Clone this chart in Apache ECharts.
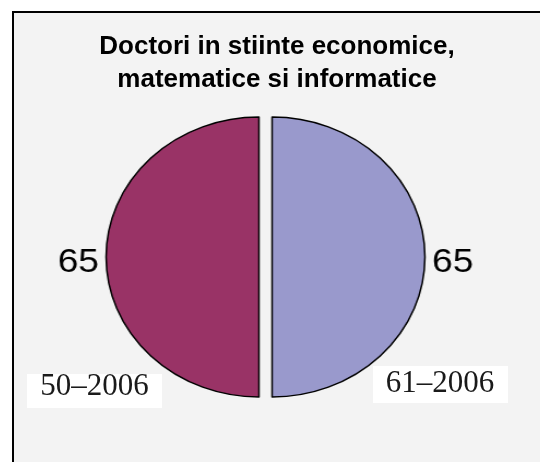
<!DOCTYPE html>
<html><head><meta charset="utf-8">
<script src="https://cdn.jsdelivr.net/npm/echarts@6/dist/echarts.min.js"></script>
<style>
html,body{margin:0;padding:0;background:#fff;overflow:hidden;}
#wrap{position:relative;width:540px;height:462px;overflow:hidden;}
#main{position:absolute;left:0;top:0;width:540px;height:462px;}
#pie{position:absolute;left:0;top:0;width:480px;height:462px;transform:scaleX(1.092);transform-origin:265.5px 0;}
</style></head><body>
<div id="wrap"><div id="main"></div><div id="pie"></div></div>
<script>
const titleLines = ['Doctori in stiinte economice,', 'matematice si informatice'];
const categories = ['61–2006', '50–2006'];
const values = [65, 65];
const colors = ['#9999CC', '#993366'];

const main = echarts.init(document.getElementById('main'));
main.setOption({
  animation: false,
  backgroundColor: '#ffffff',
  title: {
    text: titleLines.join('\n'),
    left: 277, top: 30, padding: 0, textAlign: 'center',
    textStyle: {fontFamily: '"Liberation Sans", Arial, sans-serif', fontWeight: 'bold', fontSize: 26, lineHeight: 33, color: '#000'}
  },
  graphic: [
    {type: 'rect', z: -10, shape: {x: 13, y: 12, width: 540, height: 460}, style: {fill: '#f3f3f3'}},
    {type: 'polyline', z: -9, shape: {points: [[13, 470], [13, 12], [545, 12]]}, style: {stroke: '#000', lineWidth: 2, fill: null}},
    {type: 'rect', z: 50, shape: {x: 530, y: 14, width: 20, height: 460}, style: {fill: '#f3f3f3'}},
    {type: 'rect', z: 1, shape: {x: 27, y: 374, width: 135, height: 34}, style: {fill: '#fff'}},
    {type: 'text', z: 2, x: 94.5, y: 387, style: {text: categories[1], fontFamily: '"Liberation Serif", "Times New Roman", serif', fontSize: 31, fill: '#1a1a1a', align: 'center', verticalAlign: 'middle'}},
    {type: 'rect', z: 1, shape: {x: 373, y: 366, width: 135, height: 37}, style: {fill: '#fff'}},
    {type: 'text', z: 2, x: 440, y: 383.5, style: {text: categories[0], fontFamily: '"Liberation Serif", "Times New Roman", serif', fontSize: 31, fill: '#1a1a1a', align: 'center', verticalAlign: 'middle'}}
  ]
});

const pie = echarts.init(document.getElementById('pie'));
pie.setOption({
  animation: false,
  series: [{
    type: 'pie',
    center: [265.5, 257],
    radius: 140,
    startAngle: 90,
    clockwise: true,
    avoidLabelOverlap: false,
    selectedMode: 'multiple',
    selectedOffset: 6,
    data: categories.map((c, i) => ({name: c, value: values[i], selected: true, itemStyle: {color: colors[i]}})),
    itemStyle: {borderColor: '#000', borderWidth: 1.5},
    label: {show: true, position: 'outside', formatter: '{c}', fontFamily: '"Liberation Sans", Arial, sans-serif', fontSize: 34, color: '#000', distanceToLabelLine: 5},
    labelLine: {show: false, length: 1.5, length2: 0},
    labelLayout: {dy: 6},
    emphasis: {disabled: true}
  }]
});
</script>
</body></html>
